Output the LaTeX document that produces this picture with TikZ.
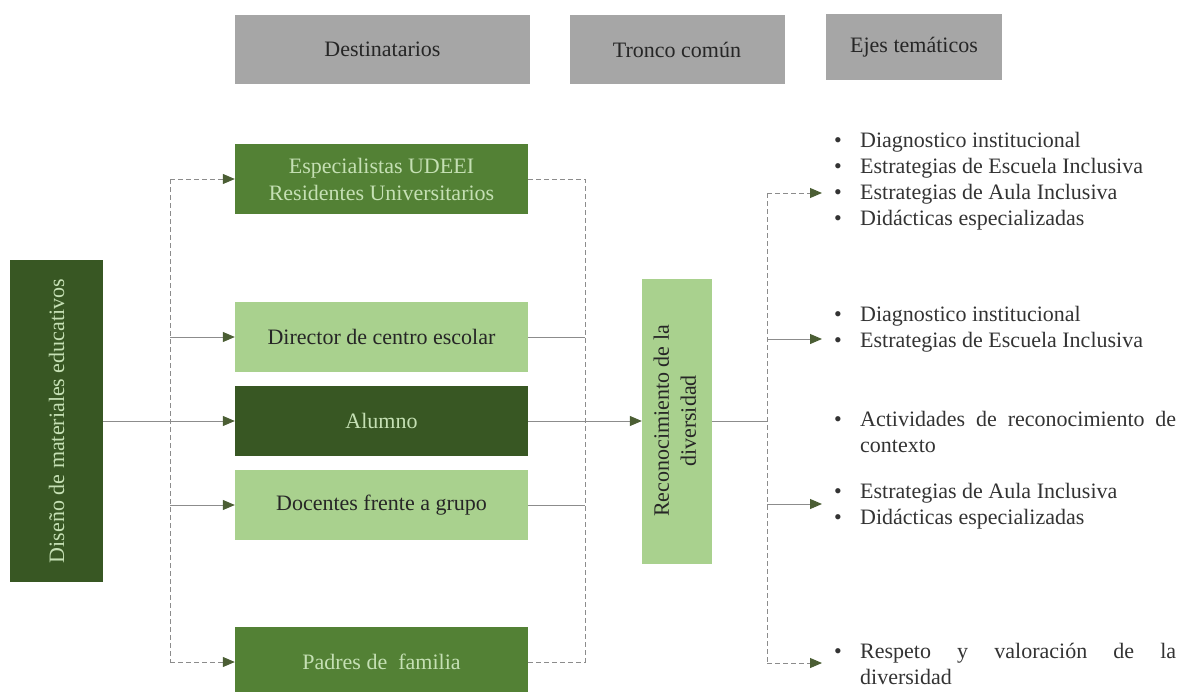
\documentclass[tikz,border=0pt]{standalone}
\usepackage{fontspec}
\setmainfont{Liberation Serif}
\usetikzlibrary{arrows.meta}
\definecolor{dgreen}{HTML}{385723}
\definecolor{mgreen}{HTML}{538135}
\definecolor{lgreen}{HTML}{A9D18E}
\definecolor{hgray}{HTML}{A6A6A6}
\definecolor{ltext}{HTML}{C5E0B4}
\definecolor{dtext}{HTML}{262626}
\definecolor{ltxt}{HTML}{333333}
\definecolor{lnc}{HTML}{8C8C8C}
\definecolor{tipc}{HTML}{4B5E34}
\newcommand{\itm}[1]{\hangindent=26pt\hangafter=1\noindent\strut\makebox[26pt][l]{\textbullet}#1\par}
\begin{document}
\begin{tikzpicture}[x=1pt,y=-1pt,
 box/.style={minimum width=293pt,minimum height=70pt,inner sep=0pt,align=center,font=\fontsize{22}{27}\selectfont},
 hdr/.style={fill=hgray,inner sep=0pt,text=dtext,font=\fontsize{22}{26}\selectfont},
 ln/.style={draw=lnc,line width=1pt},
 dsh/.style={ln,dash pattern=on 5pt off 3pt},
 arr/.style={-{Triangle[length=12pt,width=10pt,color=tipc]}},
 lst/.style={anchor=north west,inner sep=0pt,text width=342pt,align=justify,text=ltxt,font=\fontsize{22}{26}\selectfont}]
\useasboundingbox (0,0) rectangle (1181,691);
% headers
\node[hdr,minimum width=295pt,minimum height=69pt] (h1) at (382.5,49.5) {Destinatarios};
\node[hdr,minimum width=215pt,minimum height=69pt] (h2) at (677,49.5) {Tronco común};
\node[hdr,minimum width=176pt,minimum height=66pt] (h3) at (914,47) {Ejes temáticos};
% left
\node[box,fill=dgreen,text=ltext,minimum width=93pt,minimum height=322pt] (dis) at (56.5,421) {\rotatebox{90}{Diseño de materiales educativos}};
% destinatarios
\node[box,fill=mgreen,text=ltext] (esp) at (381.5,179) {Especialistas UDEEI\\Residentes Universitarios};
\node[box,fill=lgreen,text=dtext] (dir) at (381.5,337) {Director de centro escolar};
\node[box,fill=dgreen,text=ltext] (alu) at (381.5,421) {Alumno};
\node[box,fill=lgreen,text=dtext] (doc) at (381.5,505) {Docentes frente a grupo};
\node[box,fill=mgreen,text=ltext] (pad) at (381.5,662) {Padres de\ \ familia};
% tronco
\node[box,fill=lgreen,text=dtext,minimum width=70pt,minimum height=285pt] (rec) at (677,421) {\rotatebox{90}{\begin{tabular}{@{}c@{}}Reconocimiento de la\\diversidad\end{tabular}}};
% left connectors
\coordinate (jl) at (170,421);
\coordinate (jr) at (585,421);
\coordinate (je) at (767,421);
\draw[ln,arr] (dis.east) -- (alu.west);
\draw[ln,arr] (jl |- dir.west) -- (dir.west);
\draw[ln,arr] (jl |- doc.west) -- (doc.west);
\draw[dsh] (jl |- esp.west) -- (jl |- pad.west);
\draw[dsh,arr] (jl |- esp.west) -- (esp.west);
\draw[dsh,arr] (jl |- pad.west) -- (pad.west);
% middle connectors
\draw[dsh] (esp.east) -- (jr |- esp.east) -- (jr |- pad.east) -- (pad.east);
\draw[ln] (dir.east) -- (jr |- dir.east);
\draw[ln] (doc.east) -- (jr |- doc.east);
\draw[ln,arr] (alu.east) -- (rec.west);
% right connectors
\coordinate (t1) at (822,193);
\coordinate (t2) at (822,339);
\coordinate (t3) at (822,504);
\coordinate (t4) at (822,663);
\draw[ln] (rec.east) -- (je);
\draw[dsh] (je |- t1) -- (je |- t4);
\draw[dsh,arr] (je |- t1) -- (t1);
\draw[ln,arr] (je |- t2) -- (t2);
\draw[ln,arr] (je |- t3) -- (t3);
\draw[dsh,arr] (je |- t4) -- (t4);
% lists
\node[lst] (l1) at (834,128.8) {\itm{Diagnostico institucional}\itm{Estrategias de Escuela Inclusiva}\itm{Estrategias de Aula Inclusiva}\itm{Didácticas especializadas}};
\node[lst] (l2) at (834,302.8) {\itm{Diagnostico institucional}\itm{Estrategias de Escuela Inclusiva}};
\node[lst] (l3) at (834,407.8) {\itm{Actividades de reconocimiento de \mbox{contexto}}};
\node[lst] (l4) at (834,479.8) {\itm{Estrategias de Aula Inclusiva}\itm{Didácticas especializadas}};
\node[lst] (l5) at (834,639.8) {\itm{Respeto y valoración de la \mbox{diversidad}}};
\end{tikzpicture}
\end{document}
